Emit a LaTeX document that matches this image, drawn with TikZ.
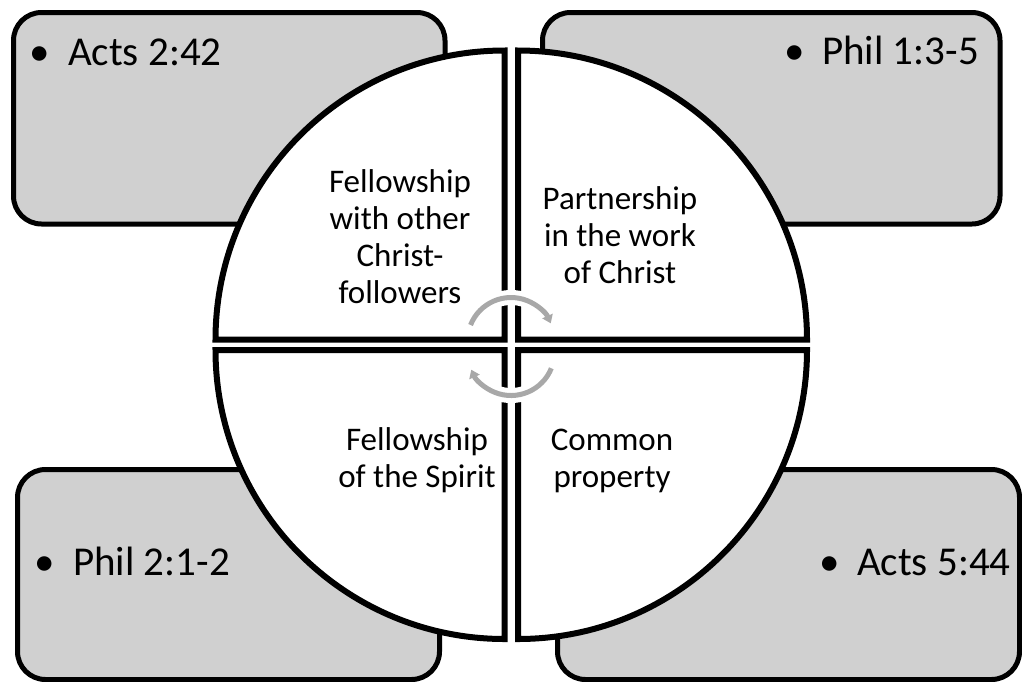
\documentclass[tikz,border=0pt]{standalone}
\usepackage{fontspec}
\setmainfont{Carlito}
\usetikzlibrary{arrows.meta}
\definecolor{boxgray}{RGB}{208,208,208}
\definecolor{arrgray}{RGB}{168,168,168}
\tikzset{
  refbox/.style={draw=black, line width=5pt, fill=boxgray, rounded corners=28pt},
  quad/.style={draw=black, line width=6pt, fill=white, line join=miter},
  qtext/.style={align=center, font=\fontsize{33}{37}\selectfont, inner sep=0pt},
  btext/.style={font=\fontsize{41}{48}\selectfont, inner sep=0pt},
  halo/.style={draw=white, line width=15pt},
  cyc/.style={draw=arrgray, line width=5pt, -{Triangle[length=8pt,width=11pt]}},
}
\newcommand{\bul}{\llap{\makebox[56pt]{•}}}
\begin{document}
\begin{tikzpicture}[x=1pt,y=-1pt]
\useasboundingbox (0,0) rectangle (1022,681);
% reference boxes
\draw[refbox] (13.5,12.5) rectangle (445,224);
\draw[refbox] (542.5,12.5) rectangle (1000,224);
\draw[refbox] (17.5,469.5) rectangle (439.5,679.5);
\draw[refbox] (557.5,469.5) rectangle (1019.5,679.5);
% quadrants
\coordinate (ctl) at (504.5,339.5);
\coordinate (ctr) at (518,339.5);
\coordinate (cbl) at (504.5,350);
\coordinate (cbr) at (518,350);
\draw[quad] (ctl) -- ++(-289,0) arc[start angle=180,end angle=270,radius=289] -- cycle;
\draw[quad] (ctr) -- ++(0,-289) arc[start angle=270,end angle=360,radius=289] -- cycle;
\draw[quad] (cbr) -- ++(289,0) arc[start angle=0,end angle=90,radius=289] -- cycle;
\draw[quad] (cbl) -- ++(0,289) arc[start angle=90,end angle=180,radius=289] -- cycle;
% cycle arrows
\coordinate (au) at (511,341);
\coordinate (al) at (511,352);
\draw[halo] (au) ++(201.6:43.5) arc[start angle=201.6,end angle=333,radius=43.5];
\draw[cyc] (au) ++(201.6:43.5) arc[start angle=201.6,end angle=336,radius=43.5];
\draw[halo] (al) ++(22:43.5) arc[start angle=22,end angle=153,radius=43.5];
\draw[cyc] (al) ++(22:43.5) arc[start angle=22,end angle=156,radius=43.5];
% texts
\node[btext, anchor=base west] (t1) at (68,65) {\bul Acts 2:42};
\node[btext, anchor=base west] (t2) at (822,64) {\bul Phil 1:3-5};
\node[btext, anchor=base west] (t3) at (73,575) {\bul Phil 2:1-2};
\node[btext, anchor=base west] (t4) at (857,575) {\bul Acts 5:44};
\node[qtext, anchor=base] (q1) at (400,303) {Fellowship\\with other\\Christ-\\followers};
\node[qtext, anchor=base] (q2) at (620,283) {Partnership\\in the work\\of Christ};
\node[qtext, anchor=base] (q3) at (417,487) {Fellowship\\of the Spirit};
\node[qtext, anchor=base] (q4) at (612,487) {Common\\property};
\end{tikzpicture}
\end{document}
